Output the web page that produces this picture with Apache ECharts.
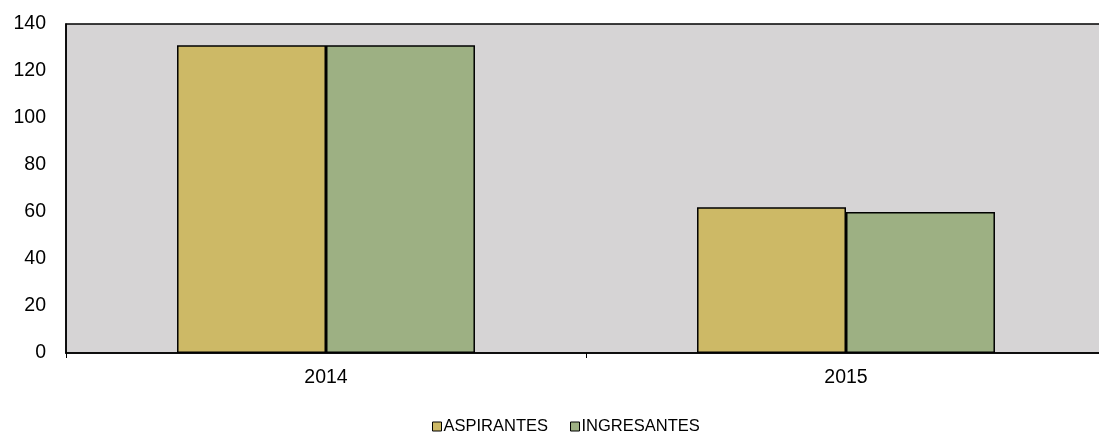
<!DOCTYPE html>
<html><head><meta charset="utf-8">
<script src="https://cdn.jsdelivr.net/npm/echarts@6/dist/echarts.min.js"></script>
<style>html,body{margin:0;padding:0;background:#fff}#c{width:1099px;height:432px}</style>
</head><body><div id="c"></div>
<script>
var categories = ['2014', '2015'];
var aspirantes = [131, 62];
var ingresantes = [131, 60];
var yTicks = [0, 20, 40, 60, 80, 100, 120, 140];

var chart = echarts.init(document.getElementById('c'));
var font = 'Arial, "Liberation Sans", sans-serif';
chart.setOption({
  animation: false,
  textStyle: { fontFamily: font },
  grid: { left: 66, top: 24, width: 1040, height: 329, outerBoundsMode: 'none', containLabel: false,
    show: true, backgroundColor: '#D6D4D5', borderColor: '#000', borderWidth: 1.5 },
  legend: {
    left: 432, top: 418, padding: 0, itemWidth: 9, itemHeight: 9, itemGap: 22, icon: 'rect',
    textStyle: { fontSize: 16.5, color: '#000', fontFamily: font, padding: [0,0,0,-3] },
    itemStyle: { borderColor: '#000', borderWidth: 1 },
    data: ['ASPIRANTES', 'INGRESANTES']
  },
  xAxis: {
    type: 'category', data: categories,
    axisLine: { lineStyle: { color: '#000', width: 1.5 } },
    axisTick: { show: true, length: 5, lineStyle: { color: '#000' } },
    axisLabel: { fontSize: 19.5, color: '#000', margin: 15, fontFamily: font }
  },
  yAxis: {
    type: 'value', min: yTicks[0], max: yTicks[yTicks.length - 1], interval: 20,
    axisLine: { show: true, lineStyle: { color: '#000', width: 1.5 } },
    axisTick: { show: false },
    splitLine: { show: false },
    axisLabel: { fontSize: 19.5, color: '#000', margin: 20, fontFamily: font }
  },
  series: [
    { name: 'ASPIRANTES', type: 'bar', data: aspirantes, barGap: '0%', barCategoryGap: '42.7%',
      itemStyle: { color: '#CDB966', borderColor: '#000', borderWidth: 1.5 } },
    { name: 'INGRESANTES', type: 'bar', data: ingresantes,
      itemStyle: { color: '#9DB083', borderColor: '#000', borderWidth: 1.5 } }
  ]
});
</script></body></html>
